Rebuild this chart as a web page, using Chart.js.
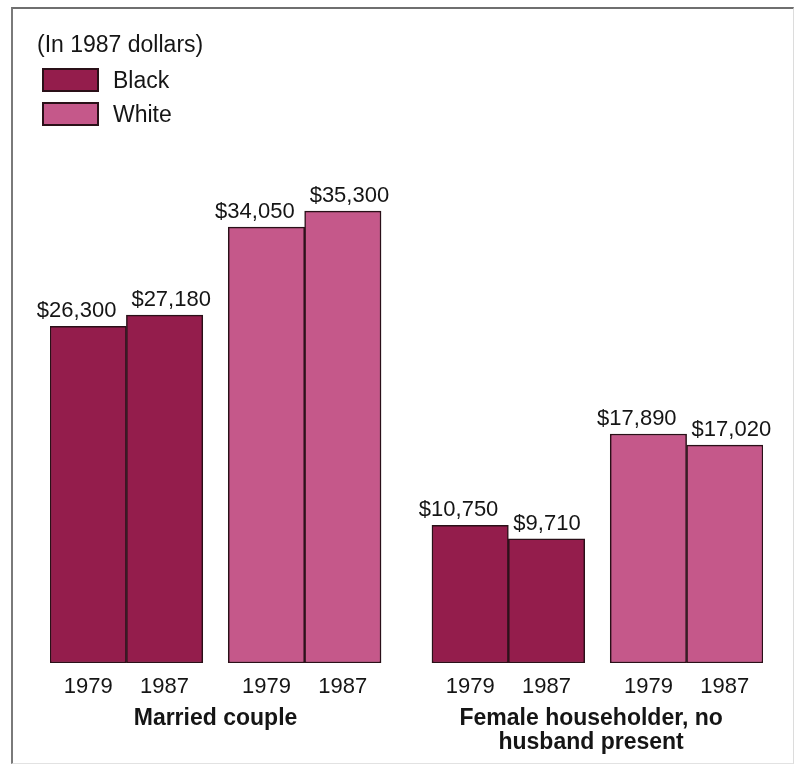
<!DOCTYPE html>
<html>
<head>
<meta charset="utf-8">
<script src="https://cdn.jsdelivr.net/npm/chart.js@4/dist/chart.umd.min.js"></script>
<style>
  body { margin: 0; background: #fff; font-family: 'Liberation Sans', Arial, sans-serif; }
  #wrap { position: relative; width: 796px; height: 768px; overflow: hidden; }
  #frame {
    position: absolute; left: 11px; top: 7px; width: 780px; height: 754px;
    border-top: 2px solid #6f6f6f; border-left: 2px solid #7a7a7a;
    border-right: 1px solid #dcdcdc; border-bottom: 1px solid #e2e2e2;
  }
  #incomeChart { position: absolute; left: 0; top: 0; }
  #legend { position: absolute; left: 37px; top: 31px; color: #151515; font-size: 23px; }
  #legend .title { margin-bottom: 5px; }
  #legend .item { display: flex; align-items: center; height: 34px; margin-left: 5px; }
  #legend .box { width: 53px; height: 20px; border: 2px solid #2a1018; margin-right: 14px; }
</style>
</head>
<body>
<div id="wrap">
  <div id="frame"></div>
  <canvas id="incomeChart" width="796" height="768"></canvas>
  <div id="legend"></div>
</div>
<script>
// median family income, 1987 dollars
const groups = [['Married couple'], ['Female householder, no', 'husband present']];
const years = ['1979', '1987'];
const races = ['Black', 'White'];
const blackIncome = [26300, 27180, 10750, 9710];
const whiteIncome = [34050, 35300, 17890, 17020];
const unitNote = '(In 1987 dollars)';

const raceColors = ['#941d4c', '#c5588a'];
const textColor = '#151515';
const fontFamily = "'Liberation Sans', Arial, sans-serif";

// slot layout along x: each bar is 3 units wide, 1 unit between races, 2 between groups
function slotX(g, r, y) {
  return g * 15 + r * 7 + y * 3 + 1.5;
}

function pointsFor(r, values) {
  return values.map((v, i) => ({ x: slotX(Math.floor(i / 2), r, i % 2), y: v }));
}

const yearTicks = [];
groups.forEach((g, gi) => races.forEach((r, ri) => years.forEach((yr, yi) => {
  yearTicks.push({ value: slotX(gi, ri, yi), label: yr });
})));
const groupTicks = groups.map((g, gi) => ({ value: gi * 15 + 6.5 - gi * 0.25, label: g }));

const valueLabels = {
  id: 'valueLabels',
  afterDatasetsDraw(chart) {
    const ctx = chart.ctx;
    ctx.save();
    ctx.font = '22px ' + fontFamily;
    ctx.fillStyle = textColor;
    ctx.textBaseline = 'alphabetic';
    chart.data.datasets.forEach((ds, di) => {
      chart.getDatasetMeta(di).data.forEach((bar, i) => {
        const half = bar.width / 2;
        const text = '$' + ds.data[i].y.toLocaleString('en-US');
        if (i % 2 === 0) {
          ctx.textAlign = 'right';
          ctx.fillText(text, bar.x + half - 10, bar.y - 9);
        } else {
          ctx.textAlign = 'left';
          ctx.fillText(text, bar.x - half + 5, bar.y - 9);
        }
      });
    });
    ctx.restore();
  }
};

const chart = new Chart(document.getElementById('incomeChart'), {
  type: 'bar',
  data: {
    datasets: [
      {
        label: races[0],
        data: pointsFor(0, blackIncome),
        backgroundColor: raceColors[0],
        borderColor: '#2a1018',
        borderWidth: 1.5,
        borderSkipped: false,
        grouped: false,
        barPercentage: 1,
        categoryPercentage: 1
      },
      {
        label: races[1],
        data: pointsFor(1, whiteIncome),
        backgroundColor: raceColors[1],
        borderColor: '#2a1018',
        borderWidth: 1.5,
        borderSkipped: false,
        grouped: false,
        barPercentage: 1,
        categoryPercentage: 1
      }
    ]
  },
  options: {
    responsive: false,
    animation: false,
    layout: { padding: { top: 151, left: 50, right: 33, bottom: 0 } },
    plugins: {
      legend: { display: false },
      tooltip: { enabled: false }
    },
    scales: {
      x: {
        type: 'linear',
        min: 0,
        max: 28,
        offset: false,
        weight: 0,
        grid: { display: false, drawTicks: false, offset: false },
        border: { display: false },
        afterBuildTicks: (scale) => { scale.ticks = yearTicks.map(t => ({ value: t.value })); },
        afterFit: (scale) => { scale.height = 37; },
        ticks: {
          autoSkip: false,
          maxRotation: 0,
          padding: 11,
          color: textColor,
          font: { family: fontFamily, size: 22 },
          callback: (value, index) => yearTicks[index].label
        }
      },
      x2: {
        type: 'linear',
        position: 'bottom',
        min: 0,
        max: 28,
        offset: false,
        weight: 1,
        grid: { display: false, drawTicks: false, offset: false },
        border: { display: false },
        afterBuildTicks: (scale) => { scale.ticks = groupTicks.map(t => ({ value: t.value })); },
        afterFit: (scale) => { scale.height = 68; },
        ticks: {
          autoSkip: false,
          maxRotation: 0,
          padding: 7,
          color: textColor,
          font: { family: fontFamily, size: 23, weight: 'bold', lineHeight: 1.02 },
          callback: (value, index) => groupTicks[index].label
        }
      },
      y: {
        display: false,
        min: 0,
        max: 40000
      }
    }
  },
  plugins: [valueLabels]
});

// legend built from the chart's datasets
const legendEl = document.getElementById('legend');
const titleEl = document.createElement('div');
titleEl.className = 'title';
titleEl.textContent = unitNote;
legendEl.appendChild(titleEl);
chart.data.datasets.forEach(ds => {
  const item = document.createElement('div');
  item.className = 'item';
  const box = document.createElement('span');
  box.className = 'box';
  box.style.background = ds.backgroundColor;
  const label = document.createElement('span');
  label.textContent = ds.label;
  item.appendChild(box);
  item.appendChild(label);
  legendEl.appendChild(item);
});
</script>
</body>
</html>
